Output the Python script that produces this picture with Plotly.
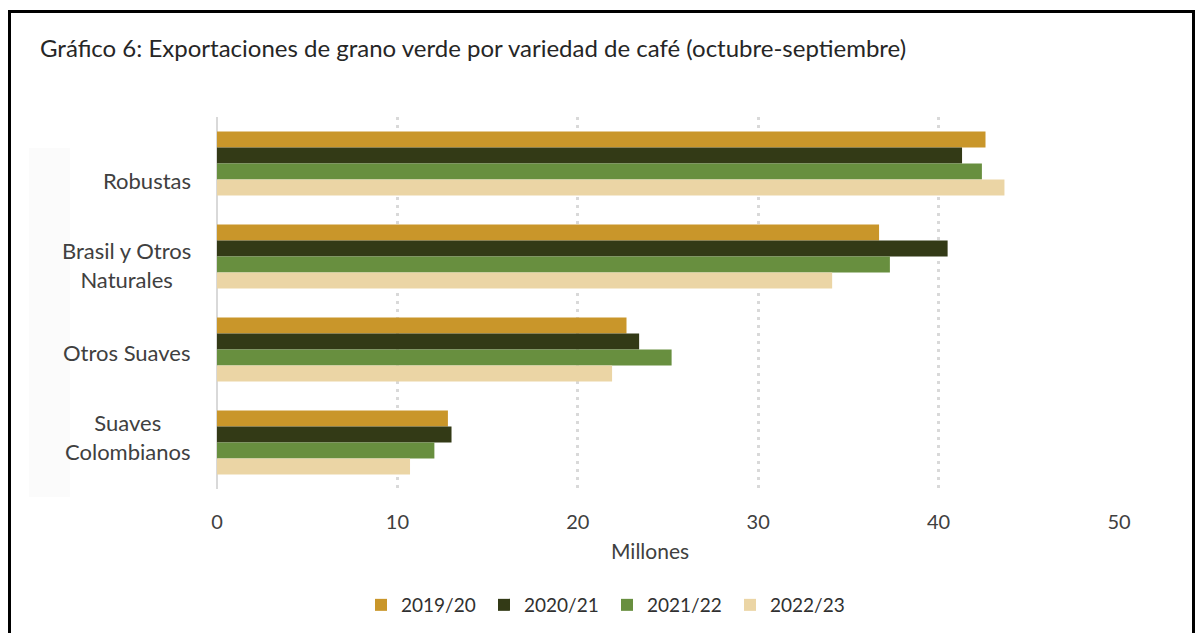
import plotly.graph_objects as go

categories = ["Robustas", "Brasil y Otros<br>Naturales", "Otros Suaves", "Suaves<br>Colombianos"]
series_names = ["2019/20", "2020/21", "2021/22", "2022/23"]
v_2019_20 = [42.6, 36.7, 22.7, 12.8]
v_2020_21 = [41.3, 40.5, 23.4, 13.0]
v_2021_22 = [42.4, 37.3, 25.2, 12.05]
v_2022_23 = [43.65, 34.1, 21.9, 10.7]
x_ticks = [0, 10, 20, 30, 40, 50]

colors = ["#C9962A", "#333A16", "#688F3F", "#EBD5A5"]
values = [v_2019_20, v_2020_21, v_2021_22, v_2022_23]

# page body has an 8px default margin; compensate and avoid overflow/scrollbars
OFF = 8
W, H = 1203 - 2 * OFF, 641 - 2 * OFF
# plot area in reference (page) pixel coords
PX0, PX1, PY0, PY1 = 217, 1119, 117, 489
L, R, T, B = PX0 - OFF, W - (PX1 - OFF), PY0 - OFF, H - (PY1 - OFF)
pw, ph = PX1 - PX0, PY1 - PY0

def px_x(x):
    return (x - PX0) / pw

def px_y(y):
    return (PY1 - y) / ph

FONT = "Lato"

fig = go.Figure()
for name, vals, col in zip(series_names, values, colors):
    fig.add_trace(go.Bar(
        y=categories, x=vals, name=name, orientation="h",
        marker=dict(color=col, line=dict(width=0)),
    ))

fig.update_layout(
    width=W, height=H,
    margin=dict(l=L, r=R, t=T, b=B, autoexpand=False),
    paper_bgcolor="white", plot_bgcolor="white",
    barmode="group", bargap=0.31, bargroupgap=0,
    font=dict(family=FONT, size=19, color="#404040"),
    showlegend=True,
    legend=dict(orientation="h", x=px_x(361), xanchor="left",
                y=px_y(605), yanchor="middle",
                font=dict(size=19, color="#303030", family=FONT),
                entrywidth=78, entrywidthmode="pixels", traceorder="normal",
                itemwidth=30),
    xaxis=dict(range=[0, 50], tickvals=x_ticks, showgrid=True, gridcolor="#D9D9D9",
               griddash="3px,5px", gridwidth=3, zeroline=True, zerolinecolor="#D9D9D9",
               zerolinewidth=1.5, showline=False, ticks="", ticklen=0,
               ticklabelstandoff=19,
               tickfont=dict(size=20, color="#404040", family=FONT)),
    yaxis=dict(categoryorder="array", categoryarray=categories, autorange="reversed",
               showgrid=False, zeroline=False, showline=False, ticks="",
               showticklabels=False),
)

# category labels (placed as in the reference, slightly offset from the bar groups)
label_y = [180, 265, 352, 437]
for cat, ly in zip(categories, label_y):
    fig.add_annotation(text=cat, xref="paper", yref="paper", x=px_x(193), y=px_y(ly),
                       xanchor="right", yanchor="middle", align="center", showarrow=False,
                       font=dict(size=22, color="#404040", family=FONT))

fig.add_annotation(text="Gráfico 6: Exportaciones de grano verde por variedad de café (octubre-septiembre)",
                   xref="paper", yref="paper", x=px_x(38), y=px_y(48),
                   xanchor="left", yanchor="middle", showarrow=False,
                   font=dict(size=24, color="#262626", family=FONT))
fig.add_annotation(text="Millones", xref="paper", yref="paper", x=px_x(650), y=px_y(550),
                   xanchor="center", yanchor="middle", showarrow=False,
                   font=dict(size=21, color="#404040", family=FONT))

# faint background band behind the category labels
fig.add_shape(type="rect", xref="paper", yref="paper",
              x0=px_x(29), x1=px_x(70), y0=px_y(497), y1=px_y(148),
              line=dict(width=0), fillcolor="#FBFBFB", layer="below")

# outer frame (kept inside the drawable figure area)
fig.add_shape(type="rect", xref="paper", yref="paper",
              x0=px_x(9.5), x1=px_x(1193.5), y0=px_y(660), y1=px_y(11.5),
              line=dict(color="black", width=3), fillcolor="rgba(0,0,0,0)", layer="above")

fig.write_html("out.html")
